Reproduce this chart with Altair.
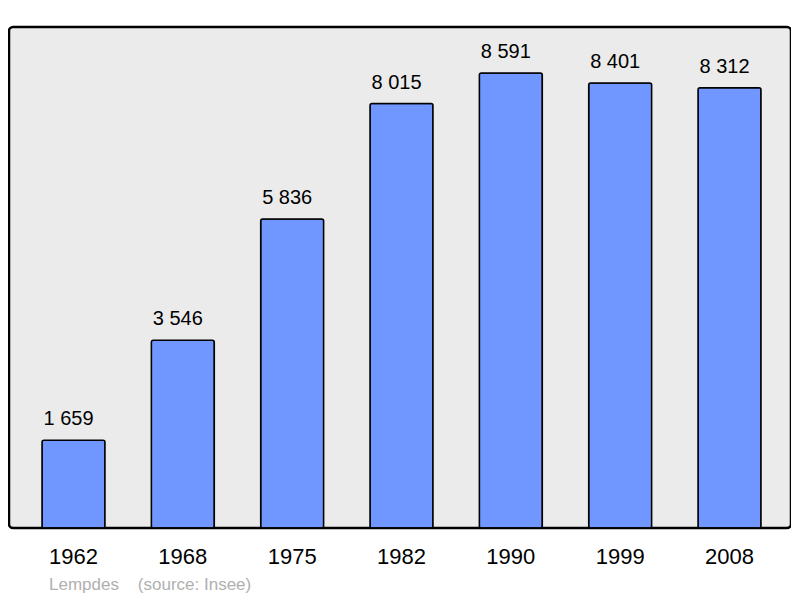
import altair as alt
import pandas as pd

years = ["1962", "1968", "1975", "1982", "1990", "1999", "2008"]
population = [1659, 3546, 5836, 8015, 8591, 8401, 8312]
labels = [f"{v:,}".replace(",", "\u00a0") for v in population]

df = pd.DataFrame({"year": years, "pop": population, "label": labels})

FONT = "Liberation Sans"

x = alt.X("year:N", sort=years,
          scale=alt.Scale(paddingInner=0.424, paddingOuter=0, range=[33, 752]),
          axis=alt.Axis(title=None, labelAngle=0, domain=False, ticks=False,
                        labelFontSize=22, labelFont=FONT, labelColor="#000000",
                        labelPadding=18))
y = alt.Y("pop:Q", scale=alt.Scale(domain=[0, 9460], nice=False, zero=True),
          axis=None)

bars = alt.Chart(df).mark_bar(color="#7096ff", stroke="#000000", strokeWidth=1.5,
                              cornerRadius=2).encode(x=x, y=y)

text = alt.Chart(df).mark_text(baseline="bottom", dy=-11, dx=-5, fontSize=20, font=FONT,
                               color="#000000").encode(x=x, y=y, text="label:N")

chart = (bars + text).properties(
    width=782, height=501,
    padding={"left": 1, "top": 19, "right": 0, "bottom": 70},
    autosize=alt.AutoSizeParams(type="none"),
    title=alt.TitleParams(
        text="Lempdes\u00a0\u00a0\u00a0\u00a0(source: Insee)",
        orient="bottom", anchor="start", fontSize=17, font=FONT,
        fontWeight="normal", color="#b0b0b0", dx=40, offset=10),
).configure(background="#ffffff").configure_view(
    fill="#ebebeb", stroke="#000000", strokeWidth=2.5, cornerRadius=4
)

chart.save("out.html", embed_options={"renderer": "svg", "actions": False})
